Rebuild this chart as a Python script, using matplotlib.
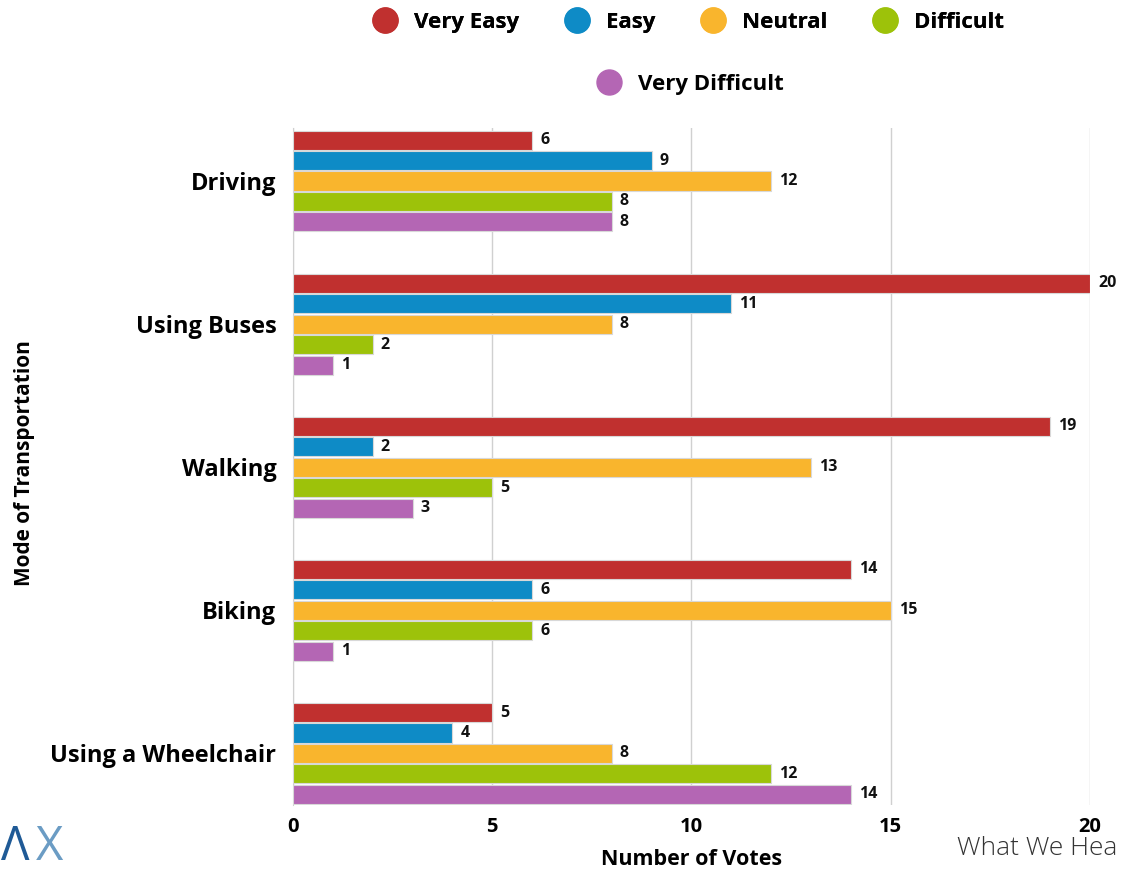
import matplotlib.pyplot as plt
import numpy as np
from matplotlib.lines import Line2D

modes = ['Driving', 'Using Buses', 'Walking', 'Biking', 'Using a Wheelchair']
levels = ['Very Easy', 'Easy', 'Neutral', 'Difficult', 'Very Difficult']
very_easy = [6, 20, 19, 14, 5]
easy = [9, 11, 2, 6, 4]
neutral = [12, 8, 13, 15, 8]
difficult = [8, 2, 5, 6, 12]
very_difficult = [8, 1, 3, 1, 14]
series = [very_easy, easy, neutral, difficult, very_difficult]
colors = ['#C0302F', '#0E8BC6', '#F9B52D', '#9DC20A', '#B466B4']

plt.rcParams['font.family'] = ['Open Sans', 'DejaVu Sans']

fig = plt.figure(figsize=(11.22, 8.71), dpi=100)
ax = fig.add_axes([0.2611, 0.0758, 0.7104, 0.7772])

y = np.arange(len(modes))
h = 0.133
step = 0.143
for i, vals in enumerate(series):
    pos = y + (i - 2) * step
    ax.barh(pos, vals, height=h, color=colors[i], edgecolor='#d8d8d8',
            linewidth=0.8, zorder=3)
    for p, v in zip(pos, vals):
        ax.text(v + 0.2, p, str(v), va='center', ha='left', fontsize=11.5,
                fontweight='bold', color='#111111')

ax.set_xlim(0, 20)
ax.set_ylim(4.36, -0.37)
ax.set_xticks([0, 5, 10, 15, 20])
ax.set_xticklabels(['0', '5', '10', '15', '20'], fontsize=14.5, fontweight='bold')
ax.set_yticks(y)
ax.set_yticklabels(modes, fontsize=17, fontweight='bold')
ax.tick_params(axis='both', length=0)
ax.tick_params(axis='x', pad=9)
ax.tick_params(axis='y', pad=12)
ax.grid(axis='x', color='#d0d0d0', linewidth=1, zorder=0)
for s in ['top', 'right', 'bottom']:
    ax.spines[s].set_visible(False)
ax.spines['left'].set_color('#d0d0d0')

ax.set_xlabel('Number of Votes', fontsize=15.5, fontweight='bold', labelpad=8)
fig.text(0.022, 0.468, 'Mode of Transportation', rotation=90, fontsize=15,
         fontweight='bold', ha='center', va='center')

handles = [Line2D([], [], marker='o', linestyle='', markersize=18,
                  markerfacecolor=c, markeredgecolor=c) for c in colors]
leg1 = fig.legend(handles[:4], levels[:4], loc='center', ncol=4,
                  bbox_to_anchor=(0.609, 0.974), frameon=False,
                  prop={'size': 16, 'weight': 'bold'}, handletextpad=0.3,
                  columnspacing=1.6)
fig.add_artist(leg1)
fig.legend(handles[4:], levels[4:], loc='center',
           bbox_to_anchor=(0.611, 0.903), frameon=False,
           prop={'size': 16, 'weight': 'bold'}, handletextpad=0.3)

fig.text(0.001, 0.0, 'Λ', fontsize=34, color='#1f5a96', ha='left', va='bottom')
fig.text(0.032, 0.0, 'X', fontsize=34, color='#6b9cc4', ha='left', va='bottom')
fig.text(0.853, 0.012, 'What We Hea', fontsize=19, color='#333333',
         ha='left', va='bottom', fontweight='light')

fig.savefig('out.png', dpi=100)
